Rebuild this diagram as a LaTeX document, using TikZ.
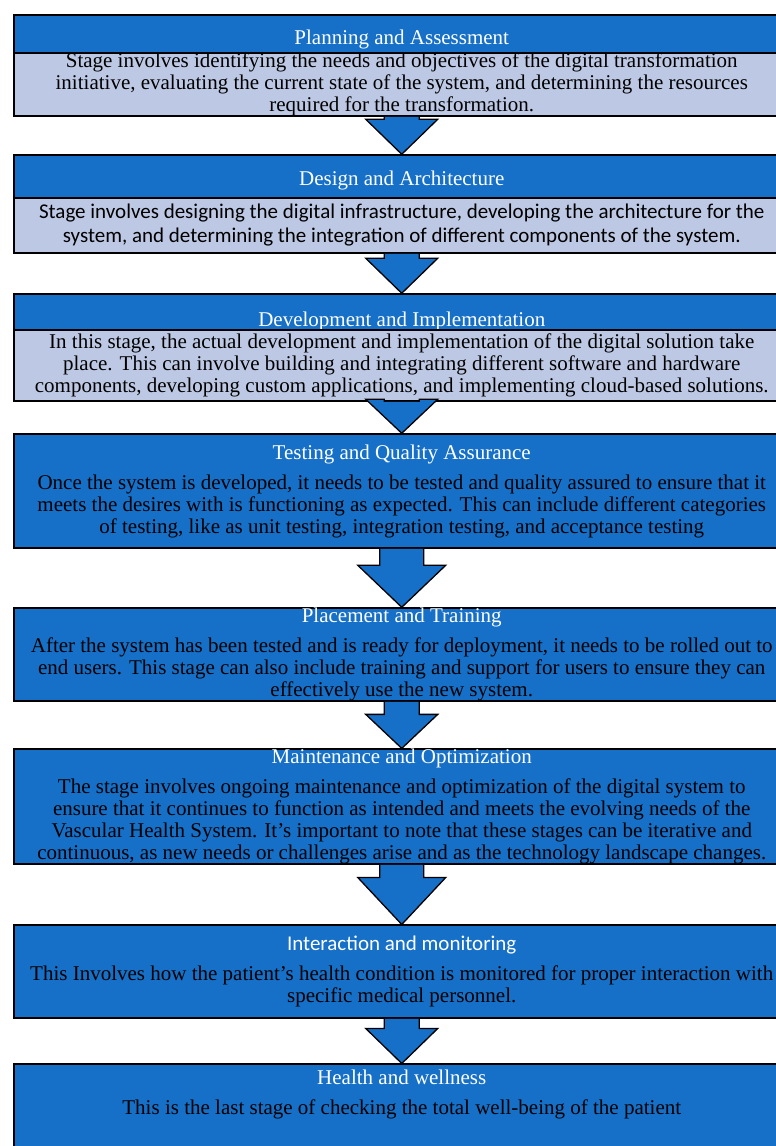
\documentclass[tikz,border=0pt]{standalone}
\usepackage{fontspec}
\setmainfont{Liberation Serif}
\newfontfamily\calfont{Carlito}
\usetikzlibrary{positioning, calc}

\definecolor{stageblue}{HTML}{1670C8}
\definecolor{stagelight}{HTML}{BDC9E4}

% white heading inside a stage box
\newcommand{\stagetitle}[1]{{\color{white}\fontsize{21}{22}\selectfont #1}}
% block arrow: from, to, half shaft, half head, head length
\newcommand{\stagearrow}[5]{%
  \filldraw[arrowblock] ($(#1.south)+(-#3,0)$) -- ($(#2.north)+(-#3,#5)$) -- ($(#2.north)+(-#4,#5)$) -- (#2.north)
    -- ($(#2.north)+(#4,#5)$) -- ($(#2.north)+(#3,#5)$) -- ($(#1.south)+(#3,0)$);
}

\begin{document}
\begin{tikzpicture}[
        x=1pt, y=1pt,
        titlebar/.style={
          draw, line width=1.5pt, fill=stageblue, text=white, minimum width=776pt,
          font=\fontsize{21}{22}\selectfont, text depth=4pt, inner ysep=2pt
        },
        textbar/.style={
          align=center, draw, line width=1.5pt, fill=stagelight, minimum width=776pt,
          font=\fontsize{21}{22}\selectfont, inner ysep=0pt
        },
        stagebox/.style={
          align=center, draw, line width=1.5pt, fill=stageblue, minimum width=776pt,
          font=\fontsize{21}{22}\selectfont, inner ysep=0pt
        },
        arrowblock/.style={
          fill=stageblue, draw=black, line width=1.3pt, line join=miter
        },
      ]
        \useasboundingbox (0,0) rectangle (776,-1146);

        % first three stages: heading bar and text bar
        \node [titlebar, minimum height=38pt, text height=26pt, anchor=north west] (plan_title) at (13,-14) {Planning and Assessment};
        \node [textbar, minimum height=63pt, below=-1.5pt of plan_title] (plan_text) {Stage involves identifying the needs and objectives of the digital transformation\\initiative, evaluating the current state of the system, and determining the resources\\required for the transformation.};

        \node [titlebar, minimum height=43pt, text height=21pt, below=37.5pt of plan_text] (design_title) {Design and Architecture};
        \node [textbar, minimum height=55pt, below=-1.5pt of design_title, font=\calfont\fontsize{21}{24}\selectfont] (design_text) {Stage involves designing the digital infrastructure, developing the architecture for the\\system, and determining the integration of different components of the system.};

        \node [titlebar, minimum height=36pt, text height=30pt, text depth=2pt, below=39.5pt of design_text] (dev_title) {Development and Implementation};
        \node [textbar, minimum height=71pt, below=-1.5pt of dev_title] (dev_text) {In this stage, the actual development and implementation of the digital solution take\\place. This can involve building and integrating different software and hardware\\components, developing custom applications, and implementing cloud-based solutions.};

        % remaining stages: one blue box each
        \node [stagebox, minimum height=114pt, below=31.5pt of dev_text] (testing) {\stagetitle{Testing and Quality Assurance}\\[8pt]Once the system is developed, it needs to be tested and quality assured to ensure that it\\meets the desires with is functioning as expected. This can include different categories\\of testing, like as unit testing, integration testing, and acceptance testing};

        \node [stagebox, minimum height=92pt, below=58.5pt of testing] (placement) {\stagetitle{Placement and Training}\\[8pt]After the system has been tested and is ready for deployment, it needs to be rolled out to\\end users. This stage can also include training and support for users to ensure they can\\effectively use the new system.};

        \node [stagebox, minimum height=115pt, below=46.5pt of placement] (maintenance) {\stagetitle{Maintenance and Optimization}\\[8pt]The stage involves ongoing maintenance and optimization of the digital system to\\ensure that it continues to function as intended and meets the evolving needs of the\\Vascular Health System. It's important to note that these stages can be iterative and\\continuous, as new needs or challenges arise and as the technology landscape changes.};

        \node [stagebox, minimum height=93pt, below=59.5pt of maintenance] (interaction) {\stagetitle{\calfont Interaction and monitoring}\\[8pt]This Involves how the patient's health condition is monitored for proper interaction with\\specific medical personnel.};

        \node [stagebox, minimum height=98pt, below=44.5pt of interaction] (health) {\stagetitle{Health and wellness}\\[8pt]This is the last stage of checking the total well-being of the patient\\[20pt]\mbox{}};

        % arrows
        \stagearrow{plan_text}{design_title}{17.5}{36}{35}
        \stagearrow{design_text}{dev_title}{17.5}{36}{35}
        \stagearrow{dev_text}{testing}{17.5}{36}{34}
        \stagearrow{testing}{placement}{22}{44}{42}
        \stagearrow{placement}{maintenance}{17.5}{36}{34}
        \stagearrow{maintenance}{interaction}{22}{44}{47}
        \stagearrow{interaction}{health}{17.5}{36}{35}

      \end{tikzpicture}
\end{document}
